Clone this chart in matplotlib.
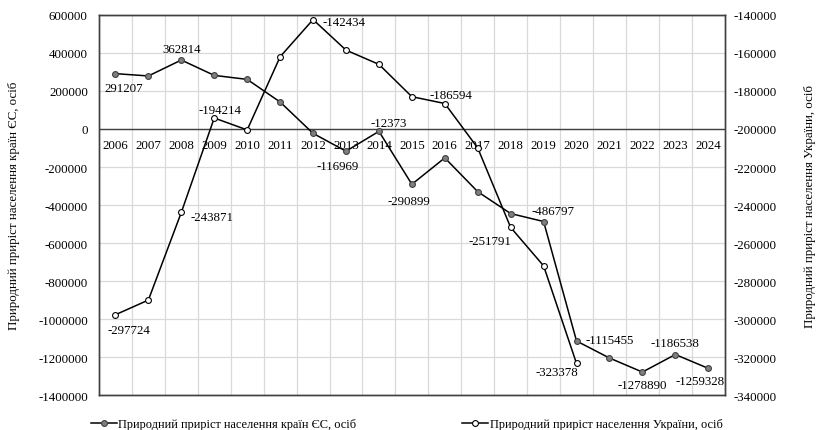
import matplotlib
matplotlib.use("Agg")
import matplotlib.pyplot as plt
from matplotlib.lines import Line2D

plt.rcParams['font.family'] = ['Liberation Serif', 'DejaVu Serif']

years = ['2006', '2007', '2008', '2009', '2010', '2011', '2012', '2013', '2014', '2015',
         '2016', '2017', '2018', '2019', '2020', '2021', '2022', '2023', '2024']
eu_values = [291207, 279000, 362814, 282000, 261000, 142000, -23000, -116969, -12373, -290899,
             -152000, -330000, -445000, -486797, -1115455, -1205000, -1278890, -1186538, -1259328]
ua_values = [-297724, -290000, -243871, -194214, -200500, -162000, -142434, -158500, -166000,
             -183000, -186594, -210000, -251791, -272000, -323378]
eu_label = 'Природний приріст населення країн ЄС, осіб'
ua_label = 'Природний приріст населення України, осіб'
left_ticks = [600000, 400000, 200000, 0, -200000, -400000, -600000, -800000, -1000000, -1200000, -1400000]
right_ticks = [-140000, -160000, -180000, -200000, -220000, -240000, -260000, -280000, -300000, -320000, -340000]

# labels: index -> offset (points)
eu_lbl = {0: (6, -10), 2: (0, 8), 7: (-6, -11), 8: (7, 6), 9: (-2, -12), 13: (6.5, 7.5),
          14: (24, 1), 16: (0, -9), 17: (0, 8), 18: (-6, -9)}
ua_lbl = {0: (10, -11), 2: (22, -3), 3: (4, 6), 6: (22, -2), 10: (4.5, 6), 12: (-15, -10), 14: (-14, -6)}

fs = 9.3
ms = 4.2
fig = plt.figure(figsize=(8.18, 4.31), dpi=100)
ax = fig.add_axes([0.121, 0.081, 0.765, 0.882])
ax2 = ax.twinx()

x = list(range(len(years)))
ax.set_xlim(-0.5, len(years) - 0.5)
ax.set_ylim(-1400000, 600000)
ax2.set_ylim(-340000, -140000)

# grid
for b in range(1, len(years)):
    ax.axvline(b - 0.5, color='#d9d9d9', lw=0.9, zorder=0)
for t in left_ticks:
    ax.axhline(t, color='#d9d9d9', lw=0.9, zorder=0)
ax.axhline(0, color='#404040', lw=1.0, zorder=1)

ax.plot(x, eu_values, color='black', lw=1.1, marker='o', ms=ms,
        mfc='#7f7f7f', mec='#404040', mew=0.8, zorder=3)
ax2.plot(x[:len(ua_values)], ua_values, color='black', lw=1.1, marker='o', ms=ms,
         mfc='white', mec='black', mew=0.8, zorder=3)

for i, off in eu_lbl.items():
    ax.annotate(str(eu_values[i]), (x[i], eu_values[i]), xytext=off, textcoords='offset points',
                ha='center', va='center', fontsize=fs, zorder=5)
for i, off in ua_lbl.items():
    ax2.annotate(str(ua_values[i]), (x[i], ua_values[i]), xytext=off, textcoords='offset points',
                 ha='center', va='center', fontsize=fs, zorder=5)

for i, yr in enumerate(years):
    ax.annotate(yr, (x[i], 0), xytext=(0, -11.5), textcoords='offset points',
                ha='center', va='center', fontsize=fs, zorder=2)

ax.set_xticks([])
ax.set_yticks(left_ticks)
ax.set_yticklabels([str(t) for t in left_ticks], fontsize=fs)
ax2.set_yticks(right_ticks)
ax2.set_yticklabels([str(t) for t in right_ticks], fontsize=fs)
ax.tick_params(axis='y', length=0, pad=8)
ax2.tick_params(axis='y', length=0, pad=6)
for a in (ax, ax2):
    for s in a.spines.values():
        s.set_color('#404040')
        s.set_linewidth(1.0)

ax.set_ylabel(eu_label, fontsize=fs)
ax2.set_ylabel(ua_label, fontsize=fs, rotation=90)
ax.yaxis.set_label_coords(-0.127, 0.5)
ax2.yaxis.set_label_coords(1.127, 0.5)

h1 = Line2D([], [], color='black', lw=1.1, marker='o', ms=ms, mfc='#7f7f7f', mec='#404040', mew=0.8)
h2 = Line2D([], [], color='black', lw=1.1, marker='o', ms=ms, mfc='white', mec='black', mew=0.8)
fig.legend([h1, h2], [eu_label, ua_label], loc='center', bbox_to_anchor=(0.497, 0.014),
           ncol=2, frameon=False, fontsize=8.9, handlelength=2.1, handletextpad=0.1,
           columnspacing=8.6, borderpad=0, borderaxespad=0)

fig.savefig('out.png', dpi=100)
